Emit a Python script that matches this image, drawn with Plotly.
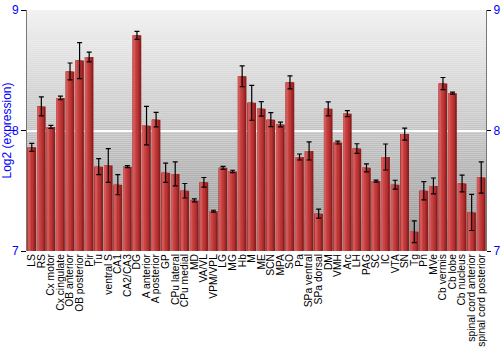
import plotly.graph_objects as go

categories = ["LS", "RS", "Cx motor", "Cx cingulate", "OB anterior", "OB posterior", "Pir", "Tu",
              "ventral S", "CA1", "CA2/CA3", "DG", "A anterior", "A posterior", "GP", "CPu lateral",
              "CPu medial", "MD", "VA/VL", "VPM/VPL", "LG", "MG", "Hb", "M", "ME", "SCN", "MPA", "SO",
              "Pa", "SPa ventral", "SPa dorsal", "DM", "VMH", "Arc", "LH", "PAG", "SC", "IC", "VTA",
              "SN", "Tg", "Pn", "MVe", "Cb vermis", "Cb lobe", "Cb nucleus",
              "spinal cord anterior", "spinal cord posterior"]
values = [7.86, 8.20, 8.03, 8.27, 8.49, 8.58, 8.61, 7.70,
          7.71, 7.55, 7.70, 8.79, 8.04, 8.09, 7.65, 7.64,
          7.50, 7.42, 7.57, 7.33, 7.69, 7.66, 8.45, 8.23, 8.18, 8.09, 8.05, 8.40,
          7.78, 7.83, 7.31, 8.18, 7.90, 8.14, 7.85, 7.69, 7.58, 7.78, 7.55,
          7.97, 7.16, 7.50, 7.54, 8.39, 8.31, 7.56,
          7.32, 7.61]
errors = [0.033, 0.079, 0.012, 0.015, 0.07, 0.15, 0.04, 0.066,
          0.14, 0.083, 0.008, 0.033, 0.16, 0.06, 0.08, 0.10,
          0.06, 0.012, 0.04, 0.008, 0.012, 0.01, 0.087, 0.145, 0.06, 0.058, 0.02, 0.054,
          0.025, 0.075, 0.037, 0.058, 0.012, 0.025, 0.04, 0.033, 0.008, 0.108, 0.037,
          0.05, 0.09, 0.075, 0.066, 0.05, 0.008, 0.07,
          0.15, 0.13]
y_ticks = [7, 8, 9]

fig = go.Figure()

# cylinder-like shading on bars via overlaid strips
strips = [
    (0.90, -0.45, "#8e1e1e"),
    (0.72, -0.45, "#ab2c2c"),
    (0.55, -0.43, "#bd3737"),
    (0.32, -0.40, "#ca4646"),
    (0.12, -0.38, "#d45757"),
]
for w, off, col in strips:
    fig.add_trace(go.Bar(x=categories, y=values, width=w, offset=off,
                         marker=dict(color=col, line=dict(width=0)),
                         hoverinfo="skip", showlegend=False))

# error bars
fig.add_trace(go.Bar(x=categories, y=values, width=0.9, offset=-0.45,
                     marker=dict(color="rgba(0,0,0,0)", line=dict(width=0)),
                     error_y=dict(type="data", array=errors, color="black",
                                  thickness=1.2, width=2.5),
                     showlegend=False))

# invisible trace for right axis
fig.add_trace(go.Scatter(x=[categories[0]], y=[7], yaxis="y2", mode="markers",
                         marker=dict(opacity=0), showlegend=False, hoverinfo="skip"))

# gradient background
n = 120
top = (242, 242, 242)
bot = (150, 150, 150)
for i in range(n):
    t = i / (n - 1)
    c = tuple(int(round(top[k] + (bot[k] - top[k]) * t)) for k in range(3))
    fig.add_shape(type="rect", xref="paper", yref="paper",
                  x0=0, x1=1, y0=1 - (i + 1) / n, y1=1 - i / n,
                  fillcolor="rgb(%d,%d,%d)" % c, line=dict(width=0), layer="below")

fig.update_layout(
    width=500, height=350,
    margin=dict(l=27, r=14, t=10, b=99),
    barmode="overlay",
    paper_bgcolor="white",
    plot_bgcolor="rgba(0,0,0,0)",
    font=dict(family="Liberation Sans, Arial, sans-serif", size=11, color="black"),
    xaxis=dict(tickangle=-90, tickfont=dict(size=10.3, color="black"),
               tickmode="array", tickvals=categories, ticktext=categories,
               showgrid=False, ticks="", showline=False, automargin=False,
               range=[-0.5, len(categories) - 0.5]),
    yaxis=dict(range=[7, 9], tickvals=y_ticks, ticktext=[str(v) for v in y_ticks],
               tickfont=dict(size=12, color="blue"), ticks="outside", ticklen=5,
               tickcolor="black", showgrid=True, gridcolor="white", gridwidth=1.5,
               zeroline=False, showline=True, linecolor="#777777", linewidth=1,
               mirror=True, automargin=False,
               title=dict(text="Log2 (expression)", font=dict(size=12, color="blue"),
                          standoff=4)),
    yaxis2=dict(range=[7, 9], tickvals=y_ticks, ticktext=[str(v) for v in y_ticks],
                overlaying="y", side="right", tickfont=dict(size=12, color="blue"),
                ticks="outside", ticklen=4, tickcolor="black", showgrid=False,
                zeroline=False, showline=False, automargin=False),
)

fig.write_html("out.html")
